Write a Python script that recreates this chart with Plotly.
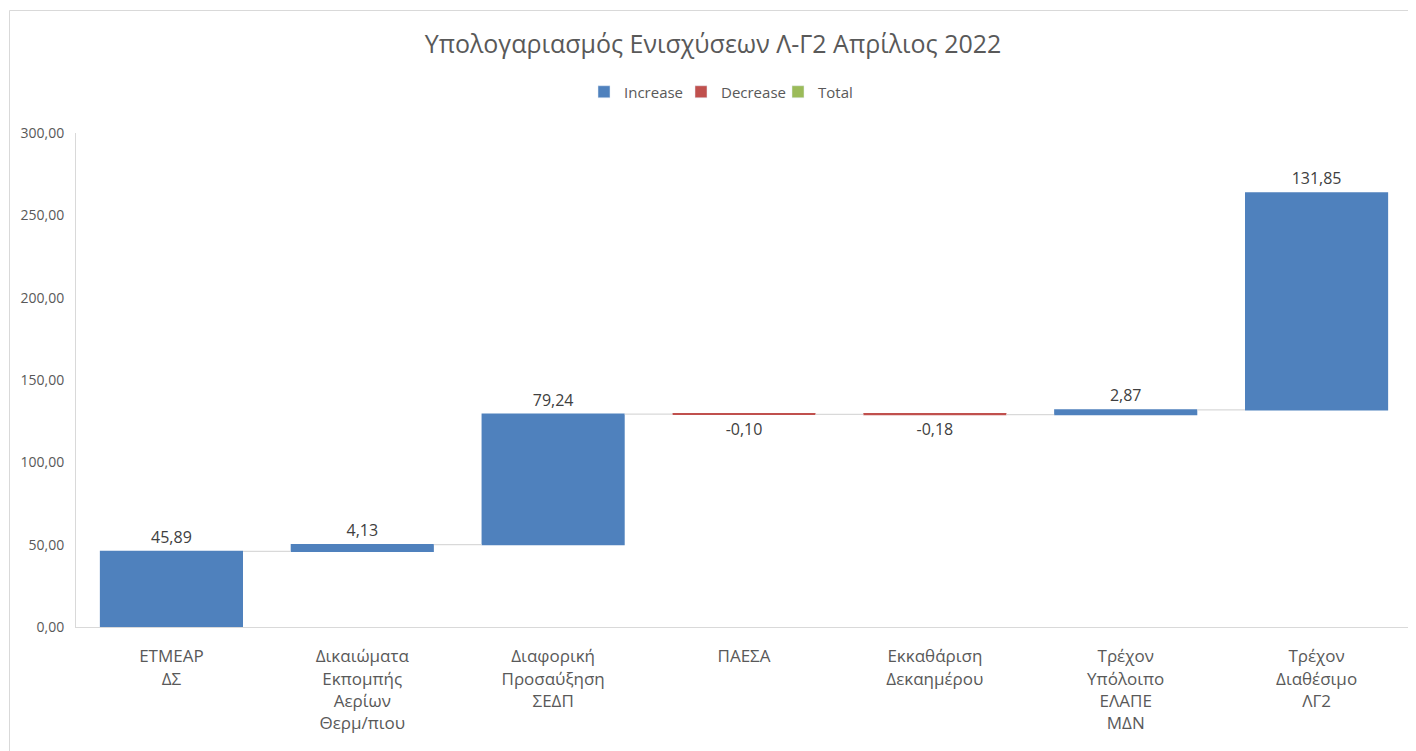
import plotly.graph_objects as go

categories = [
    "ETMEAP<br>ΔΣ",
    "Δικαιώματα<br>Εκπομπής<br>Αερίων<br>Θερμ/πιου",
    "Διαφορική<br>Προσαύξηση<br>ΣΕΔΠ",
    "ΠΑΕΣΑ",
    "Εκκαθάριση<br>Δεκαημέρου",
    "Τρέχον<br>Υπόλοιπο<br>ΕΛΑΠΕ<br>ΜΔΝ",
    "Τρέχον<br>Διαθέσιμο<br>ΛΓ2",
]
values = [45.89, 4.13, 79.24, -0.10, -0.18, 2.87, 131.85]
measures = ["relative"] * 7
y_ticks = [0, 50, 100, 150, 200, 250, 300]

title_text = "Υπολογαριασμός Ενισχύσεων Λ-Γ2 Απρίλιος 2022"
legend_names = ["Increase", "Decrease", "Total"]
legend_colors = ["#4F81BD", "#C0504D", "#9BBB59"]

labels = [f"{v:.2f}".replace(".", ",") for v in values]

FONT = "Open Sans"
TXT = "#404040"

W, H = 1408, 743
L, R, T, B = 68, 4, 125, 124
PW, PH = W - L - R, H - T - B

fig = go.Figure()
fig.add_trace(go.Waterfall(
    x=categories,
    y=values,
    measure=measures,
    text=labels,
    textposition="outside",
    textfont=dict(family=FONT, size=16, color=TXT),
    increasing=dict(marker=dict(color=legend_colors[0])),
    decreasing=dict(marker=dict(color=legend_colors[1])),
    totals=dict(marker=dict(color=legend_colors[2])),
    connector=dict(line=dict(color="#D9D9D9", width=1.2)),
    showlegend=False,
    cliponaxis=False,
))
for name, col in zip(legend_names, legend_colors):
    fig.add_trace(go.Bar(x=[categories[0]], y=[None], name=name,
                         marker=dict(color=col), showlegend=True))

fig.update_layout(
    width=W, height=H,
    margin=dict(l=L, r=R, t=T, b=B, autoexpand=False),
    paper_bgcolor="white", plot_bgcolor="white",
    separators=",.",
    waterfallgap=0.25,
    bargap=0.25,
    title=dict(text=title_text, x=705 / W, xanchor="center", y=1 - 36 / H, yanchor="middle",
               font=dict(family=FONT, size=25, color="#595959")),
    legend=dict(orientation="h", x=(576 - L) / PW, xanchor="left", y=1 + (T - 84) / PH, yanchor="middle",
                font=dict(family=FONT, size=15, color="#595959"),
                itemwidth=30, traceorder="normal", entrywidth=52, entrywidthmode="pixels"),
    font=dict(family=FONT, color="#595959"),
    xaxis=dict(showgrid=False, showline=True, linecolor="#D9D9D9", linewidth=1,
               tickfont=dict(family=FONT, size=17, color="#595959"), ticks="",
               ticklabelstandoff=14, automargin=False),
    yaxis=dict(range=[0, 300], tickvals=y_ticks, tickformat=".2f", showgrid=False,
               showline=True, linecolor="#D9D9D9", linewidth=1, zeroline=False,
               tickfont=dict(family=FONT, size=14, color="#595959"), ticks="",
               ticklabelstandoff=8, automargin=False),
    shapes=[dict(type="rect", xref="paper", yref="paper",
                 x0=(1.5 - L) / PW, x1=1.0 + (R + 10) / PW,
                 y0=-(B + 10) / PH, y1=1 + (T - 2.5) / PH,
                 line=dict(color="#D9D9D9", width=1), fillcolor="rgba(0,0,0,0)", layer="below")],
)

fig.write_html("out.html")
